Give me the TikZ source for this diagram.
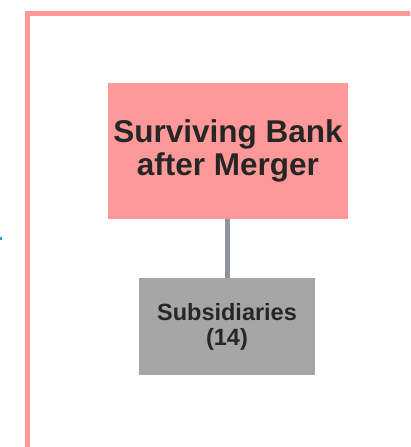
\documentclass[tikz,border=0pt]{standalone}
\usepackage{fontspec}
\setmainfont{Liberation Sans}
\definecolor{framepink}{HTML}{FF9999}
\definecolor{boxpink}{HTML}{FF9999}
\definecolor{boxgray}{HTML}{A6A6A6}
\definecolor{linkgray}{HTML}{8E9499}
\definecolor{inktext}{HTML}{262626}
\definecolor{markblue}{HTML}{1F9ED8}
\tikzset{
  orgbox/.style={draw=none, inner sep=0pt, align=center, text=inktext,
    font=\bfseries},
  link/.style={draw=linkgray, line width=5pt}
}
\begin{document}
\begin{tikzpicture}[x=1pt, y=-1pt]
  \useasboundingbox (0,0) rectangle (410,447);
  \clip (0,0) rectangle (410,447);
  % outer frame, running off the right and bottom edges
  \draw[framepink, line width=5pt] (27.5,460) -- (27.5,13.5) -- (430,13.5);
  % small blue mark at the left edge
  \fill[markblue] (0,237) rectangle (2,239.5);
  % organisation boxes
  \node[orgbox, fill=boxpink, minimum width=240pt, minimum height=136pt,
        font=\bfseries\fontsize{31.5}{33}\selectfont]
       (bank) at (228,151) {Surviving Bank\\after Merger};
  \node[orgbox, fill=boxgray, minimum width=176pt, minimum height=97pt,
        font=\bfseries\fontsize{23.5}{25}\selectfont]
       (subs) at (227,326.5) {Subsidiaries\\(14)};
  % connector
  \draw[link] (subs.north) -- (bank.south -| subs.north);
\end{tikzpicture}
\end{document}
